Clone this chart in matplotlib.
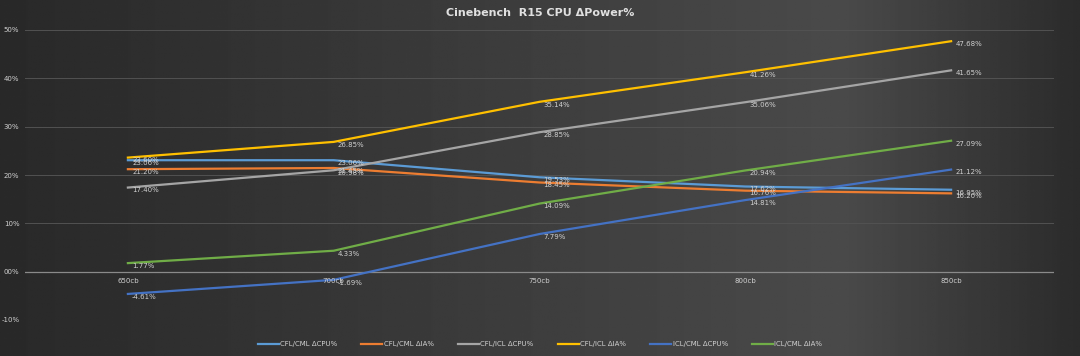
import numpy as np
import matplotlib.pyplot as plt
from matplotlib.ticker import FuncFormatter

categories = ["650cb", "700cb", "750cb", "800cb", "850cb"]
series_names = ["CFL/CML ΔCPU%", "CFL/CML ΔIA%", "CFL/ICL ΔCPU%",
                "CFL/ICL ΔIA%", "ICL/CML ΔCPU%", "ICL/CML ΔIA%"]
cfl_cml_cpu = [23.06, 23.06, 19.53, 17.62, 16.95]
cfl_cml_ia = [21.20, 21.45, 18.45, 16.76, 16.20]
cfl_icl_cpu = [17.40, 20.98, 28.85, 35.06, 41.65]
cfl_icl_ia = [23.60, 26.85, 35.14, 41.26, 47.68]
icl_cml_cpu = [-4.61, -1.69, 7.79, 14.81, 21.12]
icl_cml_ia = [1.77, 4.33, 14.09, 20.94, 27.09]
colors = ["#5B9BD5", "#ED7D31", "#A5A5A5", "#FFC000", "#4472C4", "#70AD47"]

txt = "#d0d0d0"

fig = plt.figure(figsize=(10.8, 3.56), dpi=100)

# background gradient
bg = fig.add_axes([0, 0, 1, 1], zorder=-10)
xs = np.linspace(0, 1, 400)
grad = np.where(xs < 0.78, 0.16 + 0.13 * xs / 0.78, 0.29 - 0.12 * (xs - 0.78) / 0.22)
img = np.tile(grad, (50, 1))
bg.imshow(img, cmap="gray", vmin=0, vmax=1, aspect="auto", extent=[0, 1, 0, 1])
bg.axis("off")

ax = fig.add_axes([25 / 1080, 1 - 320 / 356, (1054 - 25) / 1080, 290 / 356])
ax.patch.set_alpha(0)

x = np.arange(len(categories))
all_series = [cfl_cml_cpu, cfl_cml_ia, cfl_icl_cpu, cfl_icl_ia, icl_cml_cpu, icl_cml_ia]
for name, vals, c in zip(series_names, all_series, colors):
    ax.plot(x, vals, color=c, lw=1.6, label=name, zorder=3)
    for xi, v in zip(x, vals):
        ax.annotate(f"{v:.2f}%", (xi, v), xytext=(3, -2), textcoords="offset points",
                    fontsize=5, color=txt, va="center", zorder=4)

ax.set_xlim(-0.5, 4.5)
ax.set_ylim(-10, 50)
ax.set_yticks(range(-10, 51, 10))
ax.yaxis.set_major_formatter(FuncFormatter(lambda v, p: f"{int(v):02d}%" if v >= 0 else f"{int(v)}%"))
ax.grid(axis="y", color="#525252", lw=0.7)
ax.axhline(0, color="#8a8a8a", lw=0.9, zorder=2)
ax.set_xticks(x)
ax.set_xticklabels([])
ax.tick_params(axis="x", length=0)
ax.tick_params(axis="y", length=0, colors=txt, labelsize=5, pad=4)
for s in ax.spines.values():
    s.set_visible(False)

# category labels sit just under the 0% line
for xi, cat in zip(x, categories):
    ax.text(xi, -2, cat, fontsize=5, color=txt, ha="center", va="center")

fig.text(0.5, 1 - 13 / 356, "Cinebench  R15 CPU ΔPower%", ha="center", va="center",
         fontsize=8, fontweight="bold", color="#e0e0e0")

fig.legend(loc="center", bbox_to_anchor=(0.5, 1 - 344 / 356), ncol=6, frameon=False,
           fontsize=5, labelcolor=txt, handlelength=3, handletextpad=0.2, columnspacing=3.5)

fig.savefig("out.png", dpi=100)
